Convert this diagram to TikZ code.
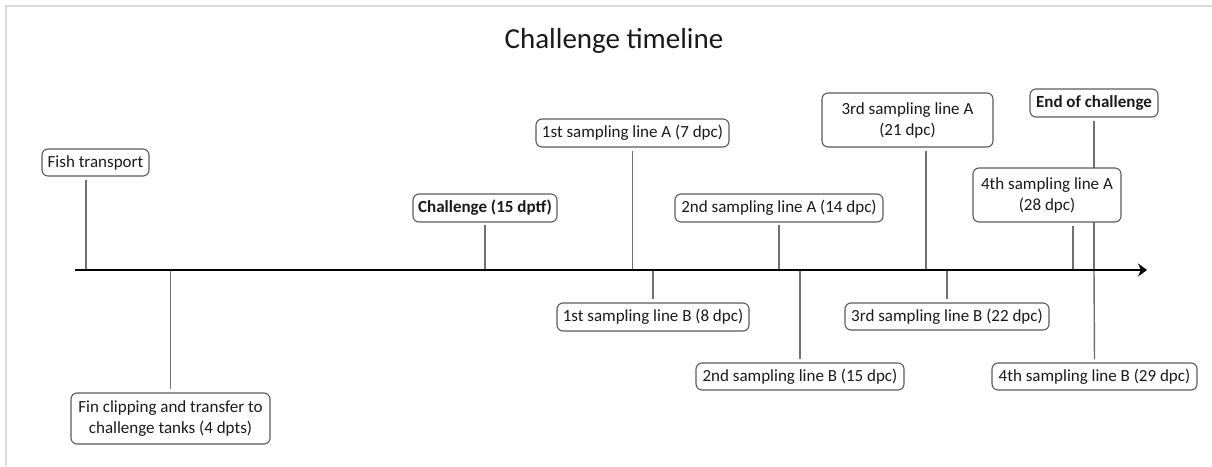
\documentclass[tikz,border=0pt]{standalone}
\usepackage{fontspec}
\setmainfont{Carlito}
\usetikzlibrary{arrows.meta,backgrounds}
\definecolor{boxgray}{HTML}{5A5A5A}
\definecolor{conngray}{HTML}{707070}
\definecolor{txt}{HTML}{1A1A1A}
\definecolor{framegray}{HTML}{D9D9D9}
\begin{document}
\begin{tikzpicture}[x=1pt,y=-1pt,
  box/.style={draw=boxgray, line width=1.1pt, rounded corners=6pt, fill=white,
    inner sep=0pt, align=center, text=txt, font=\fontsize{17}{21}\selectfont},
  bx/.style 2 args={minimum width=#1pt, minimum height=#2pt},
  conn/.style={draw=conngray, line width=1.4pt},
  axisline/.style={draw=black, line width=2.8pt, -{Stealth[length=9pt,width=13pt,inset=3pt]}}
]
\useasboundingbox (0,0) rectangle (1212,466);

% title
\node[anchor=base, text=txt, font=\fontsize{29}{34}\selectfont] (title) at (614,48) {Challenge timeline};

% boxes
\node[box, bx={107}{27}] (fish) at (95.5,162.5) {Fish transport};
\node[box, bx={199}{51}] (fin) at (170.5,418.5) {Fin clipping and transfer to\\challenge tanks (4 dpts)};
\node[box, bx={144}{28}, font=\fontsize{17}{21}\selectfont\bfseries] (chal) at (485,208) {Challenge (15 dptf)};
\node[box, bx={193}{28}] (s1A) at (632.5,133) {1st sampling line A (7 dpc)};
\node[box, bx={192}{28}] (s1B) at (653,317) {1st sampling line B (8 dpc)};
\node[box, bx={208}{28}] (s2A) at (779,208) {2nd sampling line A (14 dpc)};
\node[box, bx={208}{27}] (s2B) at (800,376.5) {2nd sampling line B (15 dpc)};
\node[box, bx={171}{54}] (s3A) at (907.5,120) {3rd sampling line A\\(21 dpc)};
\node[box, bx={204}{27}] (s3B) at (947,316.5) {3rd sampling line B (22 dpc)};
\node[box, bx={128}{28}, font=\fontsize{17}{21}\selectfont\bfseries] (endc) at (1094,103) {End of challenge};
\node[box, bx={148}{54}] (s4A) at (1047,195) {4th sampling line A\\(28 dpc)};
\node[box, bx={205}{27}] (s4B) at (1094.5,376.5) {4th sampling line B (29 dpc)};

% axis and ticks
\coordinate (axL) at (75,270);
\coordinate (axR) at (1147,270);
\coordinate (tFish) at (86,270);
\coordinate (tFin) at (170.5,270);
\coordinate (tChal) at (485,270);
\coordinate (t1A) at (632.5,270);
\coordinate (t1B) at (653,270);
\coordinate (t2A) at (779,270);
\coordinate (t2B) at (800,270);
\coordinate (t3A) at (926,270);
\coordinate (t3B) at (947,270);
\coordinate (t4A) at (1073,270);
\coordinate (tEnd) at (1094,270);

\begin{scope}[on background layer]
  \draw[draw=framegray, line width=1.2pt] (6,466) -- (6,6) -- (1212,6);
  \draw[conn, shorten <=3.5pt] (fish.south -| tFish) -- (tFish);
  \draw[conn, shorten >=3.5pt] (tFin) -- (fin.north);
  \draw[conn, shorten <=2pt] (chal.south) -- (tChal);
  \draw[conn, shorten <=3pt] (s1A.south) -- (t1A);
  \draw[conn, shorten >=3pt] (t1B) -- (s1B.north);
  \draw[conn, shorten <=2pt] (s2A.south) -- (t2A);
  \draw[conn, shorten >=3pt] (t2B) -- (s2B.north);
  \draw[conn, shorten <=3pt] (s3A.south -| t3A) -- (t3A);
  \draw[conn, shorten >=3pt] (t3B) -- (s3B.north);
  \draw[conn, shorten <=3pt] (s4A.south -| t4A) -- (t4A);
  \draw[conn, shorten <=3pt] (endc.south) -- (tEnd);
  \draw[conn, shorten >=3pt] (tEnd) -- (s4B.north);
\end{scope}

\draw[axisline] (axL) -- (axR);
\end{tikzpicture}
\end{document}
